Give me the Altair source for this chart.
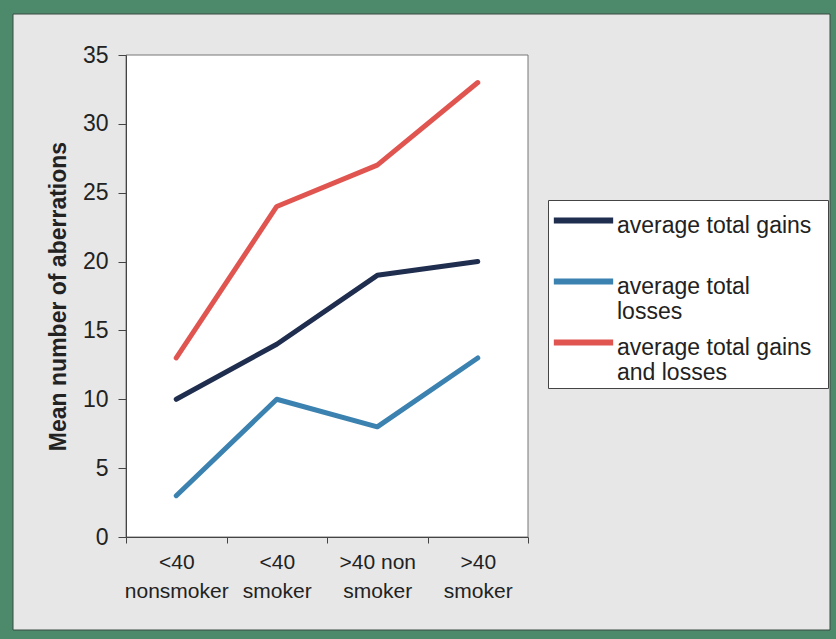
import altair as alt
import pandas as pd

# ---- data ----
categories = ["<40\nnonsmoker", "<40\nsmoker", ">40 non\nsmoker", ">40\nsmoker"]
series_names = ["average total gains", "average total losses", "average total gains and losses"]
legend_lines = [["average total gains\u00a0\u00a0\u200b"], ["average total", "losses"], ["average total gains", "and losses"]]
gains = [10, 14, 19, 20]
losses = [3, 10, 8, 13]
gains_and_losses = [13, 24, 27, 33]
series_colors = ["#1f2d4e", "#3b82b0", "#e05550"]
y_ticks = [0, 5, 10, 15, 20, 25, 30, 35]

rows = []
for name, vals in zip(series_names, [gains, losses, gains_and_losses]):
    for c, v in zip(categories, vals):
        rows.append({"category": c, "series": name, "value": v})
df = pd.DataFrame(rows)

# legend label expression (multi-line labels)
expr = "datum.label"
for name, lines in reversed(list(zip(series_names, legend_lines))):
    arr = "[" + ",".join("'" + l + "'" for l in lines) + "]"
    expr = f"datum.label == '{name}' ? {arr} : ({expr})"

FONT = "Liberation Sans"
W, H = 402, 482
L, T = 126, 55
CW, CH = 836, 639

one = pd.DataFrame({"a": [0]})
frame = alt.Chart(one).mark_rect(fill="#e7e7e7", stroke="#3a4a42", strokeWidth=1).encode(
    x=alt.value(13 - L), x2=alt.value(830 - L), y=alt.value(14 - T), y2=alt.value(630 - T)
)
plotbg = alt.Chart(one).mark_rect(fill="white", stroke="#777777", strokeWidth=1).encode(
    x=alt.value(0), x2=alt.value(W), y=alt.value(0), y2=alt.value(H)
)

lines = alt.Chart(df).mark_line(strokeWidth=5, strokeCap="round", strokeJoin="round").encode(
    x=alt.X(
        "category:N",
        sort=categories,
        bandPosition=0.5,
        scale=alt.Scale(type="band", domain=categories, paddingInner=0, paddingOuter=0),
        axis=alt.Axis(
            title=None, labelAngle=0, labelExpr="split(datum.label, '\\n')",
            tickBand="extent", labelFont=FONT, labelFontSize=21, labelColor="#222222",
            labelLineHeight=29, tickSize=6, labelPadding=8, domainColor="#444444",
            tickColor="#444444", zindex=1,
        ),
    ),
    y=alt.Y(
        "value:Q",
        scale=alt.Scale(domain=[0, 35], nice=False),
        axis=alt.Axis(
            values=y_ticks, title="Mean number of aberrations", grid=False,
            labelFont=FONT, labelFontSize=23, labelColor="#222222", tickSize=8,
            labelPadding=10, domainColor="#444444", tickColor="#444444",
            titleFont=FONT, titleFontSize=23, titleFontWeight="bold", titleColor="#222222",
            titlePadding=12, zindex=1,
        ),
    ),
    color=alt.Color(
        "series:N",
        sort=series_names,
        scale=alt.Scale(domain=series_names, range=series_colors),
        legend=alt.Legend(
            title=None, orient="none", legendX=422, legendY=145, direction="vertical",
            symbolType="M-8,1.6H8", symbolSize=55, symbolStrokeWidth=6,
            symbolOffset=21, labelOffset=22,
            labelFont=FONT, labelFontSize=23, labelColor="#222222", labelLimit=400,
            labelBaseline="top", labelExpr=expr, gridAlign="all", rowPadding=1,
            padding=3, strokeColor="#444444", fillColor="white",
        ),
    ),
)

chart = alt.layer(frame, plotbg, lines).properties(
    width=W, height=H,
    autosize=alt.AutoSizeParams(type="none"),
    padding={"left": L, "top": T, "right": CW - L - W, "bottom": CH - T - H},
).configure(background="#4d8a6c").configure_view(stroke=None)

chart.save("out.html", embed_options={"renderer": "svg", "actions": False})
